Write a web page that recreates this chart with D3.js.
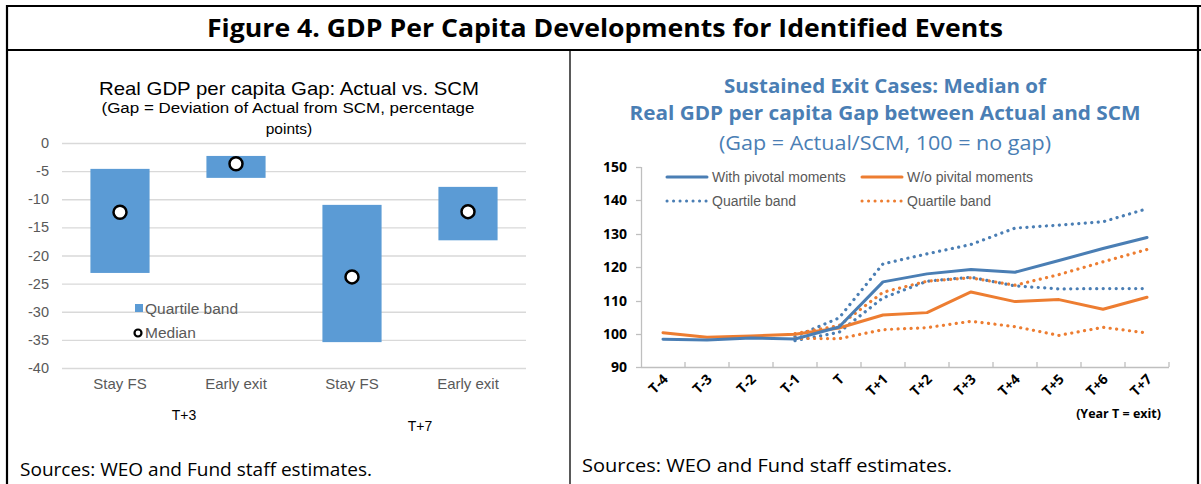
<!DOCTYPE html>
<html>
<head>
<meta charset="utf-8">
<script src="https://cdn.jsdelivr.net/npm/d3@7"></script>
<style>
  body { margin: 0; background: #fff; }
  svg { display: block; }
</style>
</head>
<body>
<svg id="fig" width="1201" height="484"></svg>
<script>
// ---- data ----
var leftCats = ["Stay FS", "Early exit", "Stay FS", "Early exit"];
var leftGroups = ["T+3", "T+7"];
var bandLow = [-23.1, -6.2, -35.4, -17.3];
var bandHigh = [-4.6, -2.3, -11.0, -7.8];
var medians = [-12.3, -3.7, -23.8, -12.2];
var leftTicks = [0, -5, -10, -15, -20, -25, -30, -35, -40];

var xCats = ["T-4", "T-3", "T-2", "T-1", "T", "T+1", "T+2", "T+3", "T+4", "T+5", "T+6", "T+7"];
var withMed = [98.4, 98.2, 98.8, 98.5, 102.1, 115.6, 118.0, 119.3, 118.5, 122.0, 125.6, 128.9];
var withHi = [null, null, null, 99.2, 104.8, 121.0, 124.0, 126.8, 131.7, 132.6, 133.6, 137.5];
var withLo = [null, null, null, 98.0, 100.5, 110.8, 115.8, 117.0, 114.4, 113.5, 113.6, 113.6];
var woMed = [100.4, 99.0, 99.4, 99.9, 101.8, 105.7, 106.4, 112.6, 109.7, 110.3, 107.4, 111.0];
var woHi = [null, null, null, 100.1, 102.5, 112.5, 115.8, 116.8, 114.6, 117.8, 121.6, 125.3];
var woLo = [null, null, null, 98.7, 98.6, 101.3, 101.9, 103.8, 102.2, 99.6, 102.0, 100.3];
var rightTicks = [90, 100, 110, 120, 130, 140, 150];

var BLUE = "#4a7eb4", ORANGE = "#ed7d31", GRAY = "#595959";
var svg = d3.select("#fig");

////////// FRAME //////////
var frame = svg.append("g").attr("stroke", "#000").attr("stroke-width", 2.2);
frame.append("line").attr("x1", 6).attr("x2", 1201).attr("y1", 6).attr("y2", 6);
frame.append("line").attr("x1", 6).attr("x2", 1201).attr("y1", 50).attr("y2", 50);
frame.append("line").attr("x1", 7).attr("x2", 7).attr("y1", 5).attr("y2", 484);
frame.append("line").attr("x1", 1198).attr("x2", 1198).attr("y1", 5).attr("y2", 484);
frame.append("line").attr("x1", 570).attr("x2", 570).attr("y1", 50).attr("y2", 484).attr("stroke-width", 1.3);

svg.append("text")
  .attr("x", 605).attr("y", 37)
  .attr("text-anchor", "middle")
  .attr("font-family", "Open Sans").attr("font-weight", 700).attr("font-size", 25)
  .attr("textLength", 796).attr("lengthAdjust", "spacingAndGlyphs")
  .text("Figure 4. GDP Per Capita Developments for Identified Events");

////////// LEFT CHART //////////
var L = svg.append("g").attr("font-family", "Liberation Sans, Arial, sans-serif");

L.append("text").attr("x", 289).attr("y", 95).attr("text-anchor", "middle")
  .attr("font-size", 19).attr("fill", "#000")
  .attr("textLength", 380).attr("lengthAdjust", "spacingAndGlyphs")
  .text("Real GDP per capita Gap: Actual vs. SCM");
L.append("text").attr("x", 288).attr("y", 113).attr("text-anchor", "middle")
  .attr("font-size", 15.5).attr("fill", "#000")
  .attr("textLength", 373).attr("lengthAdjust", "spacingAndGlyphs")
  .text("(Gap = Deviation of Actual from SCM, percentage");
L.append("text").attr("x", 289).attr("y", 134).attr("text-anchor", "middle")
  .attr("font-size", 15.5).attr("fill", "#000")
  .text("points)");

var ly = d3.scaleLinear().domain([-40, 0]).range([368, 143]);
var lx = d3.scaleBand().domain(d3.range(leftCats.length)).range([62, 526]);
var barW = lx.bandwidth() * 0.51;

L.append("g").selectAll("line").data(leftTicks).enter().append("line")
  .attr("x1", 62).attr("x2", 526)
  .attr("y1", function (d) { return ly(d) + 0.5; })
  .attr("y2", function (d) { return ly(d) + 0.5; })
  .attr("stroke", "#d9d9d9").attr("stroke-width", 1.3);

L.append("g").selectAll("text").data(leftTicks).enter().append("text")
  .attr("x", 49).attr("y", function (d) { return ly(d) + 5; })
  .attr("text-anchor", "end").attr("font-size", 14.5).attr("fill", GRAY)
  .text(function (d) { return d; });

L.append("g").selectAll("rect").data(leftCats).enter().append("rect")
  .attr("x", function (d, i) { return lx(i) + (lx.bandwidth() - barW) / 2; })
  .attr("width", barW)
  .attr("y", function (d, i) { return ly(bandHigh[i]); })
  .attr("height", function (d, i) { return ly(bandLow[i]) - ly(bandHigh[i]); })
  .attr("fill", "#5b9bd5");

L.append("g").selectAll("circle").data(medians).enter().append("circle")
  .attr("cx", function (d, i) { return lx(i) + lx.bandwidth() / 2; })
  .attr("cy", function (d) { return ly(d); })
  .attr("r", 6.5)
  .attr("fill", "#fff").attr("stroke", "#000").attr("stroke-width", 2.5);

L.append("g").selectAll("text").data(leftCats).enter().append("text")
  .attr("x", function (d, i) { return lx(i) + lx.bandwidth() / 2; })
  .attr("y", 389)
  .attr("text-anchor", "middle").attr("font-size", 15).attr("fill", GRAY)
  .text(function (d) { return d; });

L.append("text").attr("x", 184).attr("y", 420).attr("text-anchor", "middle")
  .attr("font-size", 14).attr("fill", "#000").text(leftGroups[0]);
L.append("text").attr("x", 420).attr("y", 431).attr("text-anchor", "middle")
  .attr("font-size", 14).attr("fill", "#000").text(leftGroups[1]);

// legend
L.append("rect").attr("x", 135).attr("y", 304).attr("width", 8).attr("height", 8).attr("fill", "#5b9bd5");
L.append("text").attr("x", 145).attr("y", 314).attr("font-size", 15.5).attr("fill", GRAY).text("Quartile band");
L.append("circle").attr("cx", 138).attr("cy", 333).attr("r", 3.5)
  .attr("fill", "#fff").attr("stroke", "#000").attr("stroke-width", 2.2);
L.append("text").attr("x", 145).attr("y", 338).attr("font-size", 15.5).attr("fill", GRAY).text("Median");

svg.append("text").attr("x", 20).attr("y", 476)
  .attr("font-family", "Open Sans").attr("font-size", 17.5).attr("fill", "#000")
  .attr("textLength", 352).attr("lengthAdjust", "spacingAndGlyphs")
  .text("Sources: WEO and Fund staff estimates.");

////////// RIGHT CHART //////////
var R = svg.append("g");

var titleLines = [
  { t: "Sustained Exit Cases: Median of", y: 93, w: 322, b: 700 },
  { t: "Real GDP per capita Gap between Actual and SCM", y: 120, w: 511, b: 700 },
  { t: "(Gap = Actual/SCM, 100 = no gap)", y: 150, w: 332, b: 400 }
];
R.selectAll("text.title").data(titleLines).enter().append("text")
  .attr("class", "title")
  .attr("x", 885).attr("y", function (d) { return d.y; })
  .attr("text-anchor", "middle")
  .attr("font-family", "Open Sans").attr("font-size", 19.5)
  .attr("font-weight", function (d) { return d.b; })
  .attr("fill", BLUE)
  .attr("textLength", function (d) { return d.w; }).attr("lengthAdjust", "spacingAndGlyphs")
  .text(function (d) { return d.t; });

var ry = d3.scaleLinear().domain([90, 150]).range([367.4, 167]);
var rx = d3.scaleBand().domain(xCats).range([641, 1169]);
var cx = function (i) { return rx(xCats[i]) + rx.bandwidth() / 2; };

// axes
R.append("line").attr("x1", 641.5).attr("x2", 641.5).attr("y1", 167).attr("y2", 367.5)
  .attr("stroke", "#bfbfbf").attr("stroke-width", 1.3);
R.append("line").attr("x1", 641).attr("x2", 1169).attr("y1", 367.5).attr("y2", 367.5)
  .attr("stroke", "#bfbfbf").attr("stroke-width", 1.3);
R.append("g").selectAll("line").data(rightTicks).enter().append("line")
  .attr("x1", 636).attr("x2", 641)
  .attr("y1", function (d) { return Math.round(ry(d)) + 0.5; })
  .attr("y2", function (d) { return Math.round(ry(d)) + 0.5; })
  .attr("stroke", "#bfbfbf").attr("stroke-width", 1.3);
R.append("g").selectAll("line").data(xCats.slice(1)).enter().append("line")
  .attr("x1", function (d) { return rx(d); }).attr("x2", function (d) { return rx(d); })
  .attr("y1", 362).attr("y2", 367)
  .attr("stroke", "#bfbfbf").attr("stroke-width", 1.3);
R.append("line").attr("x1", 1169).attr("x2", 1169).attr("y1", 362).attr("y2", 367)
  .attr("stroke", "#bfbfbf").attr("stroke-width", 1.3);

R.append("g").selectAll("text").data(rightTicks).enter().append("text")
  .attr("x", 627).attr("y", function (d) { return ry(d) + 5; })
  .attr("text-anchor", "end")
  .attr("font-family", "Open Sans").attr("font-weight", 700).attr("font-size", 14)
  .attr("fill", "#000")
  .text(function (d) { return d; });

R.append("g").selectAll("text").data(xCats).enter().append("text")
  .attr("transform", function (d, i) { return "translate(" + (cx(i) + 6) + ",380) rotate(-45)"; })
  .attr("text-anchor", "end")
  .attr("font-family", "Open Sans").attr("font-weight", 700).attr("font-size", 14)
  .attr("fill", "#000")
  .text(function (d) { return d; });

R.append("text").attr("x", 1161).attr("y", 418).attr("text-anchor", "end")
  .attr("font-family", "Open Sans").attr("font-weight", 700).attr("font-size", 12.5)
  .attr("fill", "#000").text("(Year T = exit)");

// lines
var line = d3.line()
  .defined(function (d) { return d != null; })
  .x(function (d, i) { return cx(i); })
  .y(function (d) { return ry(d); });

var series = [
  { v: withHi, c: BLUE, dot: true },
  { v: withLo, c: BLUE, dot: true },
  { v: woHi, c: ORANGE, dot: true },
  { v: woLo, c: ORANGE, dot: true },
  { v: woMed, c: ORANGE, dot: false },
  { v: withMed, c: BLUE, dot: false }
];
R.append("g").selectAll("path").data(series).enter().append("path")
  .attr("d", function (d) { return line(d.v); })
  .attr("fill", "none")
  .attr("stroke", function (d) { return d.c; })
  .attr("stroke-width", function (d) { return d.dot ? 3.2 : 3; })
  .attr("stroke-linecap", "round")
  .attr("stroke-linejoin", "round")
  .attr("stroke-dasharray", function (d) { return d.dot ? "0.1,6.4" : null; });

// legend
var legend = [
  { x: 667, y: 177, c: BLUE, dot: false, t: "With pivotal moments" },
  { x: 862, y: 177, c: ORANGE, dot: false, t: "W/o pivital moments" },
  { x: 667, y: 201, c: BLUE, dot: true, t: "Quartile band" },
  { x: 862, y: 201, c: ORANGE, dot: true, t: "Quartile band" }
];
var lg = R.append("g").selectAll("g").data(legend).enter().append("g");
lg.append("line")
  .attr("x1", function (d) { return d.x; }).attr("x2", function (d) { return d.x + 40; })
  .attr("y1", function (d) { return d.y; }).attr("y2", function (d) { return d.y; })
  .attr("stroke", function (d) { return d.c; })
  .attr("stroke-width", 3)
  .attr("stroke-linecap", "round")
  .attr("stroke-dasharray", function (d) { return d.dot ? "0.1,6.4" : null; });
lg.append("text")
  .attr("x", function (d) { return d.x + 45; }).attr("y", function (d) { return d.y + 5; })
  .attr("font-family", "Liberation Sans, Arial, sans-serif").attr("font-size", 14)
  .attr("fill", GRAY)
  .text(function (d) { return d.t; });

svg.append("text").attr("x", 582).attr("y", 472)
  .attr("font-family", "Open Sans").attr("font-size", 17.5).attr("fill", "#000")
  .attr("textLength", 370).attr("lengthAdjust", "spacingAndGlyphs")
  .text("Sources: WEO and Fund staff estimates.");
</script>
</body>
</html>
